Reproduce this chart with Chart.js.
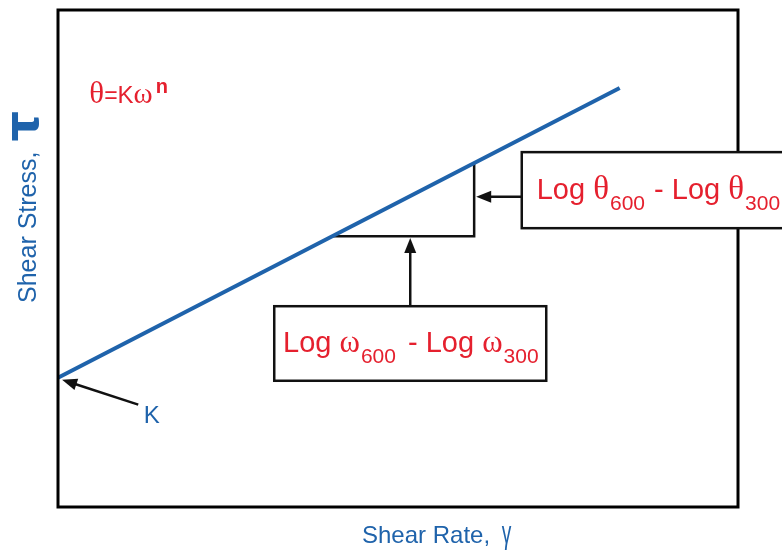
<!DOCTYPE html>
<html>
<head>
<meta charset="utf-8">
<script src="https://cdn.jsdelivr.net/npm/chart.js@4.4.0/dist/chart.umd.min.js"></script>
<style>
  html, body { margin: 0; padding: 0; background: #fff; }
  #wrap { width: 782px; height: 554px; position: relative; }
</style>
</head>
<body>
<div id="wrap"><canvas id="chart"></canvas></div>
<script>
// power-law line (log shear rate vs log shear stress), axis units 0..100
const rateX = [0, 82.6];
const stressY = [26, 84.3];
// slope triangle between the 300 and 600 rpm readings
const stepX = [40.4, 61.2, 61.2];
const stepY = [54.5, 54.5, 69.2];

const xTitle = 'Shear Rate, ';
const yTitle = 'Shear Stress, ';

const BLUE = '#1f63ab';
const RED = '#e5202e';
const SANS = '"Liberation Sans", Arial, sans-serif';
const SERIF = '"Liberation Serif", "Times New Roman", serif';

function arrow(ctx, x1, y1, x2, y2) {
    // line from (x1,y1) with filled head at (x2,y2)
    const a = Math.atan2(y2 - y1, x2 - x1);
    const len = 15, w = 6;
    ctx.beginPath();
    ctx.moveTo(x1, y1);
    ctx.lineTo(x2 - Math.cos(a) * len * 0.8, y2 - Math.sin(a) * len * 0.8);
    ctx.stroke();
    ctx.beginPath();
    ctx.moveTo(x2, y2);
    ctx.lineTo(x2 - Math.cos(a) * len - Math.sin(a) * w, y2 - Math.sin(a) * len + Math.cos(a) * w);
    ctx.lineTo(x2 - Math.cos(a) * len + Math.sin(a) * w, y2 - Math.sin(a) * len - Math.cos(a) * w);
    ctx.closePath();
    ctx.fill();
}

function rich(ctx, parts, x, y) {
    parts.forEach(p => {
        ctx.font = p.font;
        ctx.fillText(p.t, x, y + (p.dy || 0));
        x += ctx.measureText(p.t).width + (p.gap || 0);
    });
}

const annotations = {
    id: 'annotations',
    afterDraw(chart) {
        const ctx = chart.ctx;
        const xs = chart.scales.x, ys = chart.scales.y;
        const px = v => xs.getPixelForValue(v);
        const py = v => ys.getPixelForValue(v);
        const ca = chart.chartArea;
        ctx.save();

        // frame
        ctx.strokeStyle = '#000';
        ctx.lineWidth = 3;
        ctx.strokeRect(ca.left, ca.top, ca.right - ca.left, ca.bottom - ca.top);

        // arrows
        ctx.strokeStyle = '#111';
        ctx.fillStyle = '#111';
        ctx.lineWidth = 2.5;
        arrow(ctx, px(11.8), py(20.6), px(0.6), py(25.6));
        arrow(ctx, px(51.8), py(40.4), px(51.8), py(54.1));
        arrow(ctx, px(68.2), py(62.4), px(61.5), py(62.4));

        // boxes
        ctx.lineWidth = 2.5;
        ctx.fillStyle = '#fff';
        const boxes = [[68.2, 71.4, 110, 56.1], [31.8, 40.4, 71.8, 25.4]];
        boxes.forEach(b => {
            const x = px(b[0]), y = py(b[1]), w = px(b[2]) - x, h = py(b[3]) - y;
            ctx.fillRect(x, y, w, h);
            ctx.strokeRect(x, y, w, h);
        });

        // box labels
        ctx.fillStyle = RED;
        ctx.textBaseline = 'alphabetic';
        ctx.textAlign = 'left';
        const big = '29px ' + SANS, sub = '21px ' + SANS;
        const symt = '33px ' + SERIF, symw = '31px ' + SERIF;
        rich(ctx, [
            { t: 'Log ', font: big }, { t: 'θ', font: symt, gap: 1 }, { t: '600', font: sub, dy: 11, gap: 1 },
            { t: ' - Log ', font: big }, { t: 'θ', font: symt, gap: 1 }, { t: '300', font: sub, dy: 11 }
        ], px(70.4), py(61.9));
        rich(ctx, [
            { t: 'Log ', font: big }, { t: 'ω', font: symw, gap: 1 }, { t: '600', font: sub, dy: 11, gap: 4 },
            { t: ' - Log ', font: big }, { t: 'ω', font: symw, gap: 1 }, { t: '300', font: sub, dy: 11 }
        ], px(33.1), py(31.2));

        // formula
        rich(ctx, [
            { t: 'θ', font: '31px ' + SERIF }, { t: '=', font: '23px ' + SANS }, { t: 'K', font: '24px ' + SANS },
            { t: 'ω', font: '29px ' + SERIF, gap: 3 }, { t: 'n', font: 'bold 20px ' + SANS, dy: -10 }
        ], px(4.6), py(81.2));

        // K label
        ctx.fillStyle = BLUE;
        ctx.font = '24px ' + SANS;
        ctx.fillText('K', px(12.6), py(16.9));

        // axis titles
        ctx.font = '24px ' + SANS;
        const tx = ca.left + 304;
        ctx.fillText(xTitle, tx, 543);
        const xw = ctx.measureText(xTitle).width;
        ctx.save();
        ctx.translate(tx + xw + 5, 543);
        ctx.scale(0.8, 1.3);
        ctx.font = '24px ' + SANS;
        ctx.fillText('γ', 0, 0);
        ctx.restore();

        ctx.translate(36, 303);
        ctx.rotate(-Math.PI / 2);
        ctx.font = '25px ' + SANS;
        ctx.fillText(yTitle, 0, 0);
        const yw = ctx.measureText(yTitle).width;
        ctx.font = 'bold 48px "DejaVu Sans", sans-serif';
        ctx.fillText('τ', yw + 3, 2);
        ctx.restore();
    }
};

new Chart(document.getElementById('chart'), {
    type: 'scatter',
    data: {
        datasets: [
            {
                data: rateX.map((x, i) => ({ x: x, y: stressY[i] })),
                showLine: true,
                borderColor: BLUE,
                borderWidth: 4,
                pointRadius: 0,
            },
            {
                data: stepX.map((x, i) => ({ x: x, y: stepY[i] })),
                showLine: true,
                borderColor: '#111',
                borderWidth: 2.5,
                pointRadius: 0,
            },
        ],
    },
    options: {
        responsive: true,
        maintainAspectRatio: false,
        animation: false,
        layout: { padding: { left: 58, top: 10, right: 44, bottom: 47 } },
        scales: {
            x: { type: 'linear', min: 0, max: 100, display: false },
            y: { type: 'linear', min: 0, max: 100, display: false },
        },
        plugins: {
            legend: { display: false },
            tooltip: { enabled: false },
        },
    },
    plugins: [annotations],
});
</script>
</body>
</html>
